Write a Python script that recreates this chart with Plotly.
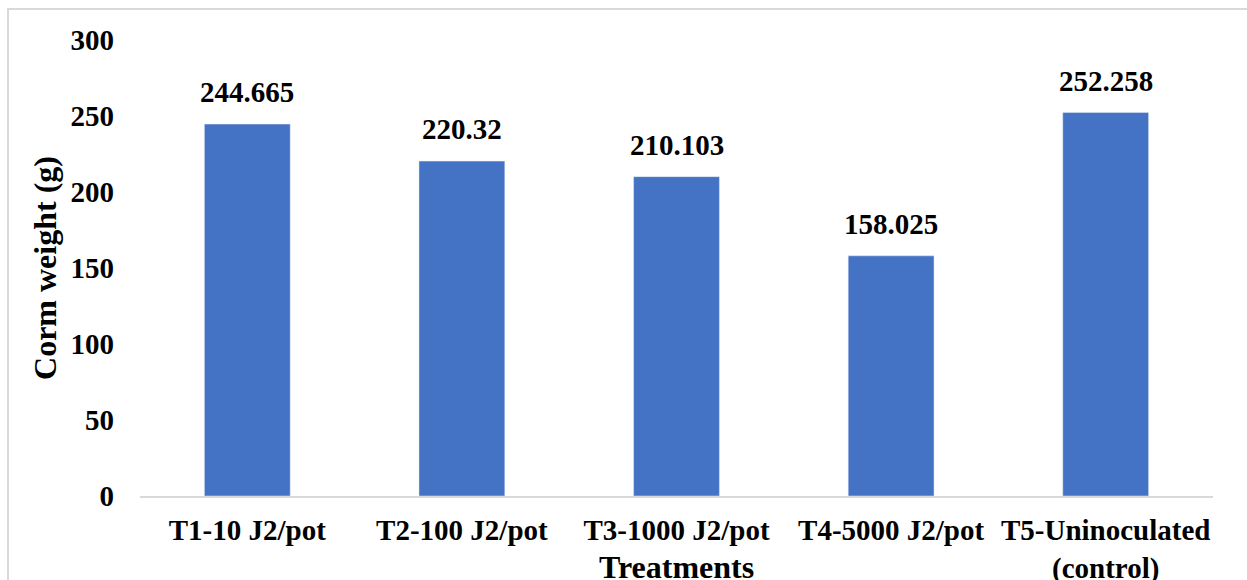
import plotly.graph_objects as go

treatments = ["T1-10 J2/pot", "T2-100 J2/pot", "T3-1000 J2/pot", "T4-5000 J2/pot",
              "T5-Uninoculated<br>(control)"]
corm_weight = [244.665, 220.32, 210.103, 158.025, 252.258]
value_labels = ["244.665", "220.32", "210.103", "158.025", "252.258"]
y_ticks = [0, 50, 100, 150, 200, 250, 300]

FONT = "Liberation Serif"
BAR_COLOR = "#4472C4"
LABEL_FONT = dict(family=FONT, size=29, color="black", weight="bold")

fig = go.Figure(
    go.Bar(
        x=treatments,
        y=corm_weight,
        marker_color=BAR_COLOR,
        width=0.4,
    )
)

# value labels above each bar
annotations = [
    dict(x=cat, y=val, xref="x", yref="y", text=lab, showarrow=False,
         yanchor="bottom", yshift=14, font=LABEL_FONT)
    for cat, val, lab in zip(treatments, corm_weight, value_labels)
]
annotations.append(
    dict(
        text="Treatments", xref="paper", yref="paper", x=0.5, y=0,
        yshift=-71, showarrow=False, yanchor="middle",
        font=dict(family=FONT, size=32, color="black", weight="bold"),
    )
)

fig.update_layout(
    width=1247,
    height=580,
    margin=dict(l=140, r=34, t=40, b=84),
    paper_bgcolor="white",
    plot_bgcolor="white",
    showlegend=False,
    font=dict(family=FONT, color="black"),
    xaxis=dict(
        showline=True,
        linecolor="#d9d9d9",
        linewidth=2,
        ticks="",
        tickfont=LABEL_FONT,
        ticklabelstandoff=7,
        showgrid=False,
        automargin=False,
    ),
    yaxis=dict(
        range=[0, 300],
        tickvals=y_ticks,
        showline=False,
        showgrid=False,
        zeroline=False,
        ticks="",
        tickfont=LABEL_FONT,
        ticklabelstandoff=25,
        automargin=False,
        title=dict(text="Corm weight (g)", font=dict(family=FONT, size=32, weight="bold"), standoff=4),
    ),
    annotations=annotations,
    shapes=[
        dict(
            type="rect", xref="paper", yref="paper",
            x0=(8 - 140) / 1073, x1=1.2, y0=-0.5, y1=1 + (40 - 9) / 456,
            line=dict(color="#d9d9d9", width=2), fillcolor="rgba(0,0,0,0)",
            layer="below",
        )
    ],
)

fig.write_html("out.html")
